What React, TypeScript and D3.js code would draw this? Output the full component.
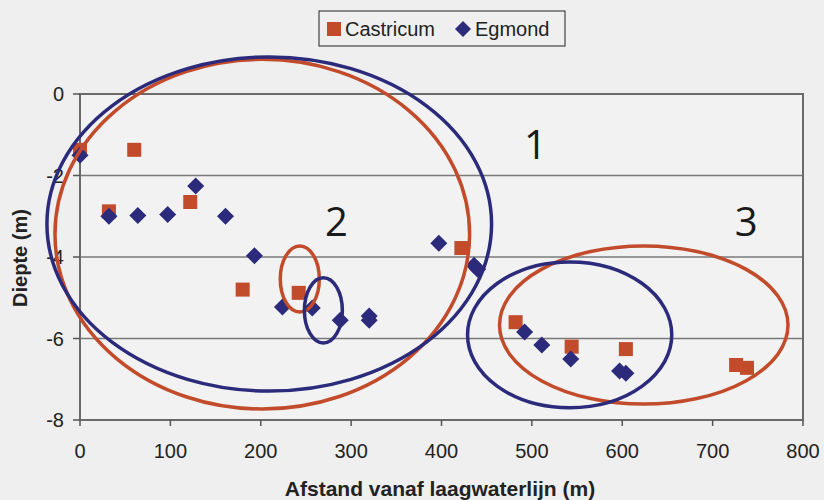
import React from "react";
import * as d3 from "d3";

const castricumX = [0, 60, 32, 122, 180, 242, 422, 482, 544, 604, 726, 738];
const castricumY = [-1.37, -1.37, -2.88, -2.65, -4.8, -4.88, -3.78, -5.6, -6.2, -6.26, -6.65, -6.72];
const egmondX = [0, 32, 64, 97, 128, 161, 193, 224, 257, 288, 320, 320, 397, 436, 440, 492, 511, 543, 597, 604];
const egmondY = [-1.5, -3.0, -2.98, -2.96, -2.26, -3.0, -3.97, -5.23, -5.25, -5.55, -5.45, -5.55, -3.66, -4.2, -4.3, -5.84, -6.16, -6.5, -6.8, -6.85];
const xTicks = [0, 100, 200, 300, 400, 500, 600, 700, 800];
const yTicks = [0, -2, -4, -6, -8];

// annotation ellipses: [cx, cy, rx, ry] in data units
const redEllipses = [
  [201.7, -3.44, 229.4, 4.29],
  [243.2, -4.54, 21.6, 0.81],
  [623.8, -5.67, 159.6, 1.94],
];
const blueEllipses = [
  [209.4, -3.19, 246, 4.1],
  [269.3, -5.31, 21, 0.8],
  [541.8, -5.91, 113, 1.79],
];
const groupLabels = ["1", "2", "3"];
const groupLabelX = [504, 283.7, 737];
const groupLabelY = [-1.25, -3.14, -3.14];

const RED = "#c24b2b";
const BLUE = "#2b2a7b";
const BG = "#eeefee";

export default function App() {
  const W = 824, H = 500;
  const x = d3.scaleLinear().domain([0, 800]).range([80, 803]);
  const y = d3.scaleLinear().domain([0, -8]).range([94, 420]);
  const font = "'Liberation Sans', Arial, sans-serif";
  const sq = 14;
  const dm = 8.5;
  const diamond = (cx: number, cy: number, r: number) =>
    `M${cx},${cy - r}L${cx + r},${cy}L${cx},${cy + r}L${cx - r},${cy}Z`;

  return (
    <div style={{ position: "absolute", left: 0, top: 0 }}>
      <svg width={W} height={H} style={{ display: "block", background: BG }}>
        <rect x={0} y={0} width={W} height={H} fill={BG} />
        <rect x={x(0)} y={y(0)} width={x(800) - x(0)} height={y(-8) - y(0)} fill="#f1f2f1" />
        {yTicks.filter((t) => t !== 0 && t !== -8).map((t) => (
          <line key={t} x1={x(0)} x2={x(800)} y1={y(t)} y2={y(t)} stroke="#7a7a7a" strokeWidth={1.5} />
        ))}
        <rect x={x(0)} y={y(0)} width={x(800) - x(0)} height={y(-8) - y(0)} fill="none" stroke="#6a6a6a" strokeWidth={2} />
        {yTicks.map((t) => (
          <g key={t}>
            <line x1={x(0) - 7} x2={x(0)} y1={y(t)} y2={y(t)} stroke="#555" strokeWidth={1.5} />
            <text x={x(0) - 16} y={y(t)} dy="0.35em" textAnchor="end" fontFamily={font} fontSize={20} fill="#222">
              {t === 0 ? "0" : "-" + Math.abs(t)}
            </text>
          </g>
        ))}
        {xTicks.map((t) => (
          <g key={t}>
            <line x1={x(t)} x2={x(t)} y1={y(-8)} y2={y(-8) + 6} stroke="#555" strokeWidth={1.5} />
            <text x={x(t)} y={458} textAnchor="middle" fontFamily={font} fontSize={20} fill="#222">
              {t}
            </text>
          </g>
        ))}
        <text x={440} y={496} textAnchor="middle" fontFamily={font} fontSize={21} fontWeight="bold" fill="#222">
          Afstand vanaf laagwaterlijn (m)
        </text>
        <text transform="translate(27,258) rotate(-90)" textAnchor="middle" fontFamily={font} fontSize={20} fontWeight="bold" fill="#222">
          Diepte (m)
        </text>

        {castricumX.map((v, i) => (
          <rect key={"c" + i} x={x(v) - sq / 2} y={y(castricumY[i]) - sq / 2} width={sq} height={sq} fill={RED} />
        ))}
        {egmondX.map((v, i) => (
          <path key={"e" + i} d={diamond(x(v), y(egmondY[i]), dm)} fill={BLUE} />
        ))}

        {redEllipses.map((e, i) => (
          <ellipse key={"re" + i} cx={x(e[0])} cy={y(e[1])} rx={x(e[2]) - x(0)} ry={y(-e[3]) - y(0)} fill="none" stroke={RED} strokeWidth={3.5} />
        ))}
        {blueEllipses.map((e, i) => (
          <ellipse key={"be" + i} cx={x(e[0])} cy={y(e[1])} rx={x(e[2]) - x(0)} ry={y(-e[3]) - y(0)} fill="none" stroke={BLUE} strokeWidth={3.5} />
        ))}

        {groupLabels.map((l, i) => (
          <text key={l} x={x(groupLabelX[i])} y={y(groupLabelY[i])} dy="0.36em" textAnchor="middle" fontFamily="'Open Sans', sans-serif" fontSize={40} fill="#1a1a1a">
            {l}
          </text>
        ))}

        <rect x={319} y={11} width={246} height={35} fill={BG} stroke="#444" strokeWidth={1.2} />
        <rect x={327} y={22} width={14} height={14} fill={RED} />
        <text x={345} y={36} fontFamily={font} fontSize={20} fill="#222">Castricum</text>
        <path d={diamond(463, 29, 8)} fill={BLUE} />
        <text x={475} y={36} fontFamily={font} fontSize={20} fill="#222">Egmond</text>
      </svg>
    </div>
  );
}
